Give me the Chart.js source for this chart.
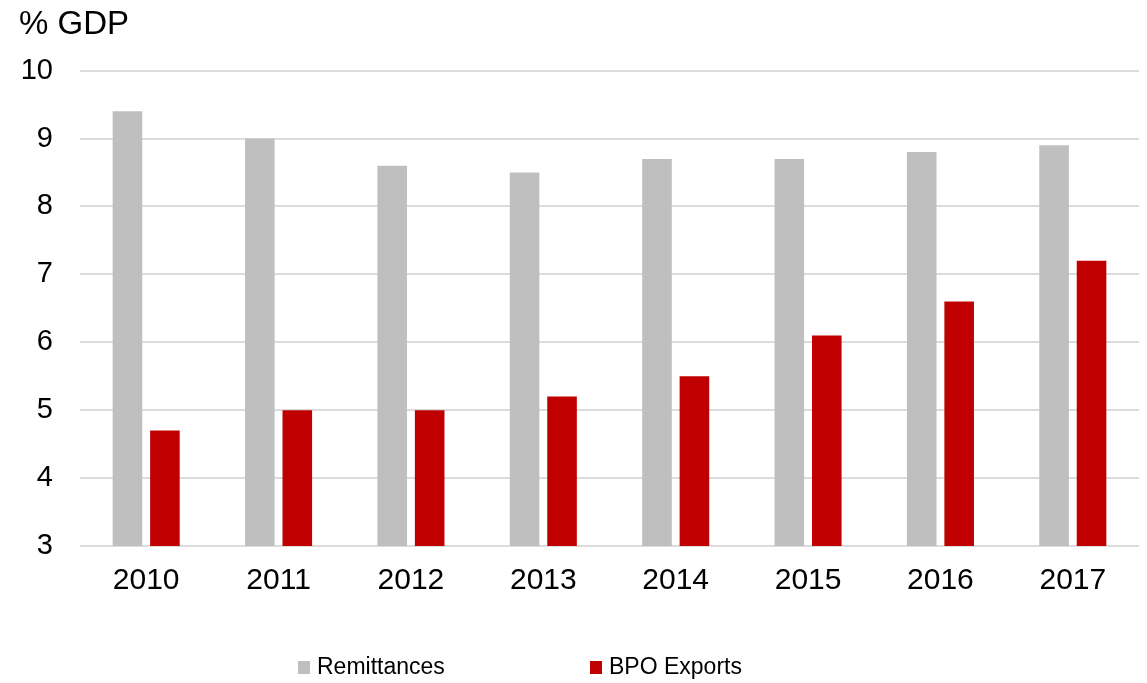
<!DOCTYPE html>
<html>
<head>
<meta charset="utf-8">
<script src="https://cdn.jsdelivr.net/npm/chart.js@4.4.0/dist/chart.umd.min.js"></script>
<style>
  html, body { margin: 0; padding: 0; background: #fff; }
  #wrap { width: 1147px; height: 683px; }
</style>
</head>
<body>
<div id="wrap"><canvas id="chart" width="1147" height="683"></canvas></div>
<script>
// data
const years = ['2010', '2011', '2012', '2013', '2014', '2015', '2016', '2017'];
const remittances = [9.4, 9.0, 8.6, 8.5, 8.7, 8.7, 8.8, 8.9];
const bpoExports = [4.7, 5.0, 5.0, 5.2, 5.5, 6.1, 6.6, 7.2];
const yTicks = [3, 4, 5, 6, 7, 8, 9, 10];

const FONT = "'Liberation Sans', Arial, sans-serif";

// legend drawn under the plot, the built-in one can't sit off-centre
const bottomLegend = {
    id: 'bottomLegend',
    afterDraw(chart) {
        const ctx = chart.ctx;
        const items = chart.data.datasets;
        const starts = [298, 590];
        ctx.save();
        ctx.font = '23px ' + FONT;
        ctx.textBaseline = 'middle';
        items.forEach((ds, i) => {
            const x = starts[i];
            ctx.fillStyle = ds.backgroundColor;
            ctx.fillRect(x, 661, 12, 13);
            ctx.fillStyle = '#000';
            ctx.fillText(ds.label, x + 19, 668);
        });
        ctx.restore();
    }
};

new Chart(document.getElementById('chart'), {
    type: 'bar',
    data: {
        labels: years,
        datasets: [
            {
                label: 'Remittances',
                data: remittances,
                backgroundColor: '#bfbfbf',
                categoryPercentage: 0.566,
                barPercentage: 0.79
            },
            {
                label: 'BPO Exports',
                data: bpoExports,
                backgroundColor: '#c00000',
                categoryPercentage: 0.566,
                barPercentage: 0.79
            }
        ]
    },
    options: {
        responsive: false,
        animation: false,
        layout: { padding: { left: 19, right: 8, top: 5, bottom: 60 } },
        plugins: {
            legend: { display: false },
            tooltip: { enabled: false },
            title: {
                display: true,
                text: '% GDP',
                align: 'start',
                color: '#000',
                font: { family: FONT, size: 33, weight: 'normal' },
                padding: { top: 0, bottom: 26 }
            }
        },
        scales: {
            x: {
                grid: { display: false, drawTicks: false },
                border: { display: false },
                ticks: {
                    color: '#000',
                    font: { family: FONT, size: 30 },
                    padding: 17
                },
                afterFit(scale) { scale.height = 77; }
            },
            y: {
                min: 3,
                max: 10,
                afterBuildTicks(scale) {
                    scale.ticks = yTicks.map(v => ({ value: v }));
                },
                grid: { color: '#dcdcdc', lineWidth: 2, drawTicks: false },
                border: { display: false },
                ticks: {
                    color: '#000',
                    font: { family: FONT, size: 29 },
                    padding: 27
                },
                afterFit(scale) { scale.width = 61; }
            }
        }
    },
    plugins: [bottomLegend]
});
</script>
</body>
</html>
